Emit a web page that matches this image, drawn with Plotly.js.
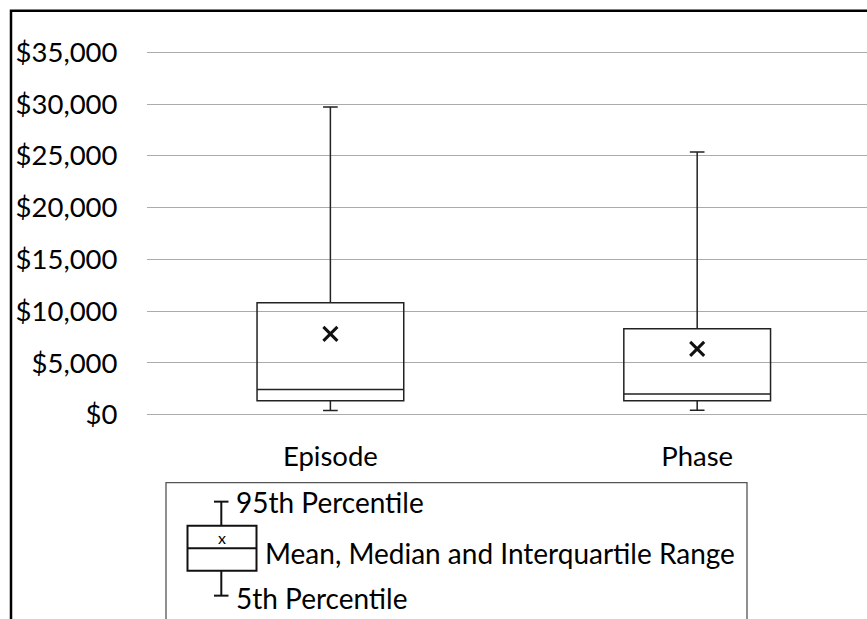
<!DOCTYPE html>
<html>
<head>
<meta charset="utf-8">
<script src="https://cdn.plot.ly/plotly-3.0.1.min.js"></script>
<style>
  html, body { margin: 0; padding: 0; background: #ffffff; }
  #chart { width: 867px; height: 619px; }
</style>
</head>
<body>
<div id="chart"></div>
<script>
// ---- data ----
var categories = ['Episode', 'Phase'];
var p5Values = [390, 420];
var q1Values = [1350, 1350];
var medianValues = [2420, 2000];
var q3Values = [10800, 8310];
var p95Values = [29730, 25380];
var meanValues = [7800, 6350];
var yTickValues = [0, 5000, 10000, 15000, 20000, 25000, 30000, 35000];

var legendTexts = {
  top: '95th Percentile',
  middle: 'Mean, Median and Interquartile Range',
  bottom: '5th Percentile',
  mark: 'x'
};

// ---- layout geometry ----
var W = 867, H = 619;
var mL = 147, mR = 0, mT = 42.35, mB = 619 - 425.35;
var plotW = W - mL - mR, plotH = H - mT - mB;
function px(x) { return (x - mL) / plotW; }
function py(y) { return (H - mB - y) / plotH; }

var FONT = 'Lato, "Open Sans", sans-serif';

var boxTrace = {
  type: 'box',
  x: categories,
  q1: q1Values,
  median: medianValues,
  q3: q3Values,
  lowerfence: p5Values,
  upperfence: p95Values,
  boxpoints: false,
  width: 0.4,
  whiskerwidth: 0.1,
  fillcolor: 'rgba(0,0,0,0)',
  line: { color: '#222222', width: 1.5 },
  hoverinfo: 'skip',
  showlegend: false
};

var meanTrace = {
  type: 'scatter',
  mode: 'markers',
  x: categories,
  y: meanValues,
  marker: { symbol: 'x-thin', size: 14, color: '#000', line: { color: '#111', width: 3 } },
  hoverinfo: 'skip',
  showlegend: false
};

var lineBlack = { color: '#111', width: 2 };
var shapes = [
  // outer chart border
  { type: 'rect', xref: 'paper', yref: 'paper', x0: px(11), x1: px(900), y0: py(11), y1: py(700),
    line: { color: '#000', width: 2.5 }, layer: 'above' },
  // legend frame
  { type: 'rect', xref: 'paper', yref: 'paper', x0: px(166), x1: px(747), y0: py(483), y1: py(700),
    line: { color: '#555', width: 1.3 } },
  // legend glyph: upper cap + whisker
  { type: 'line', xref: 'paper', yref: 'paper', x0: px(214), x1: px(228.5), y0: py(502), y1: py(502), line: lineBlack },
  { type: 'line', xref: 'paper', yref: 'paper', x0: px(221.3), x1: px(221.3), y0: py(502), y1: py(526), line: lineBlack },
  // legend glyph: box + median
  { type: 'rect', xref: 'paper', yref: 'paper', x0: px(187.5), x1: px(256.5), y0: py(526), y1: py(571), line: lineBlack },
  { type: 'line', xref: 'paper', yref: 'paper', x0: px(187.5), x1: px(256.5), y0: py(548.5), y1: py(548.5), line: lineBlack },
  // legend glyph: lower whisker + cap
  { type: 'line', xref: 'paper', yref: 'paper', x0: px(221.3), x1: px(221.3), y0: py(571), y1: py(596), line: lineBlack },
  { type: 'line', xref: 'paper', yref: 'paper', x0: px(214), x1: px(228.5), y0: py(596), y1: py(596), line: lineBlack }
];

var annFont = { family: FONT, size: 28, color: '#000' };
var annotations = [
  { xref: 'paper', yref: 'paper', x: px(234), y: py(502), xanchor: 'left', yanchor: 'middle',
    text: legendTexts.top, showarrow: false, font: annFont },
  { xref: 'paper', yref: 'paper', x: px(263), y: py(553), xanchor: 'left', yanchor: 'middle',
    text: legendTexts.middle, showarrow: false, font: annFont },
  { xref: 'paper', yref: 'paper', x: px(234), y: py(598), xanchor: 'left', yanchor: 'middle',
    text: legendTexts.bottom, showarrow: false, font: annFont },
  { xref: 'paper', yref: 'paper', x: px(221.5), y: py(538), xanchor: 'center', yanchor: 'middle',
    text: legendTexts.mark, showarrow: false, font: { family: FONT, size: 16, color: '#000' } }
];

var layout = {
  width: W, height: H,
  margin: { l: mL, r: mR, t: mT, b: mB, pad: 0 },
  paper_bgcolor: '#ffffff',
  plot_bgcolor: 'rgba(0,0,0,0)',
  showlegend: false,
  xaxis: {
    type: 'category',
    range: [-0.5, 1.463],
    showgrid: false, zeroline: false, showline: false,
    ticks: 'outside', ticklen: 7, tickcolor: 'rgba(0,0,0,0)',
    tickfont: { family: FONT, size: 27.5, color: '#000' },
    fixedrange: true
  },
  yaxis: {
    range: [-1000, 36000],
    tickmode: 'array',
    tickvals: yTickValues,
    ticktext: yTickValues.map(function (v) { return '$' + v.toLocaleString('en-US'); }),
    showgrid: true, gridcolor: '#ababab', gridwidth: 1.2,
    zeroline: false, showline: false,
    ticks: 'outside', ticklen: 23, tickcolor: 'rgba(0,0,0,0)',
    tickfont: { family: FONT, size: 27.5, color: '#000' },
    fixedrange: true
  },
  shapes: shapes,
  annotations: annotations
};

Plotly.newPlot('chart', [boxTrace, meanTrace], layout, { staticPlot: true, displayModeBar: false });
</script>
</body>
</html>
